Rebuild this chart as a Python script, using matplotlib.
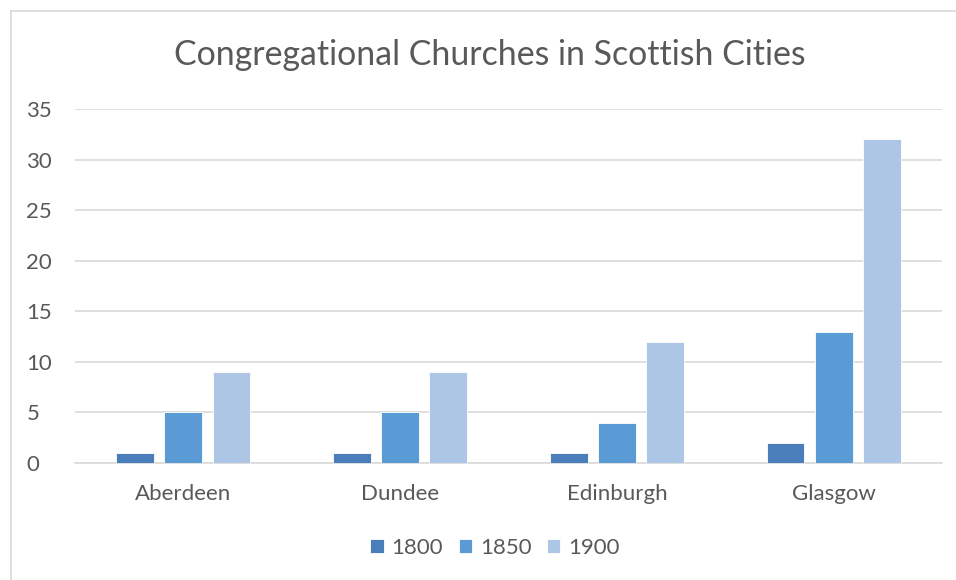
import matplotlib.pyplot as plt
from matplotlib.lines import Line2D
import numpy as np

cities = ["Aberdeen", "Dundee", "Edinburgh", "Glasgow"]
years = ["1800", "1850", "1900"]
c1800 = [1, 1, 1, 2]
c1850 = [5, 5, 4, 13]
c1900 = [9, 9, 12, 32]
colors = ["#4a7ebb", "#5b9bd5", "#adc6e5"]

plt.rcParams["font.family"] = ["Lato", "DejaVu Sans"]
text_color = "#595959"

fig = plt.figure(figsize=(9.56, 5.8), dpi=100)
ax = fig.add_axes([75 / 956, 1 - 463 / 580, 867 / 956, 354 / 580])

x = np.arange(len(cities))
w = 0.175
step = 0.222
for i, (vals, lab) in enumerate(zip([c1800, c1850, c1900], years)):
    ax.bar(x + (i - 1) * step, vals, width=w, color=colors[i], label=lab,
           edgecolor="white", linewidth=0.6, zorder=3)

ax.set_xlim(-0.5, 3.5)
ax.set_ylim(0, 35)
ax.set_yticks(range(0, 36, 5))
ax.set_xticks(x)
ax.set_xticklabels(cities)
ax.grid(axis="y", color="#d9d9d9", linewidth=1.2, zorder=0)
for s in ["top", "right", "left"]:
    ax.spines[s].set_visible(False)
ax.spines["bottom"].set_color("#d9d9d9")
ax.spines["bottom"].set_linewidth(1.2)
ax.tick_params(axis="both", length=0, colors=text_color, labelsize=16)
ax.tick_params(axis="x", pad=15)
ax.tick_params(axis="y", pad=35)
for t in ax.get_yticklabels():
    t.set_horizontalalignment("left")

fig.text(490 / 956, 1 - 55 / 580, "Congregational Churches in Scottish Cities",
         ha="center", va="center", fontsize=24.4, color=text_color)

leg = fig.legend(loc="center", bbox_to_anchor=(495 / 956, 1 - 548 / 580), ncol=3,
                 frameon=False, fontsize=16, handlelength=0.6, handleheight=0.6,
                 columnspacing=0.7, handletextpad=0.35)
for t in leg.get_texts():
    t.set_color(text_color)

# chart border (visible on left and top only)
fig.add_artist(Line2D([11 / 956, 11 / 956], [0, 1 - 11 / 580], color="#d9d9d9",
                      linewidth=1.2, transform=fig.transFigure))
fig.add_artist(Line2D([11 / 956, 1], [1 - 11 / 580, 1 - 11 / 580], color="#d9d9d9",
                      linewidth=1.2, transform=fig.transFigure))

fig.savefig("out.png", dpi=100)
